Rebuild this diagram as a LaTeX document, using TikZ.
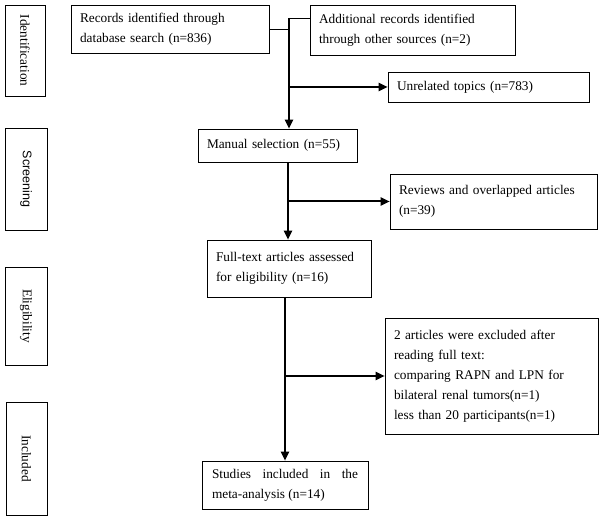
\documentclass[tikz,border=0pt]{standalone}
\usepackage{fontspec}
\setmainfont{Liberation Serif}
\newfontfamily\stagesans{Liberation Sans}
\usepackage{tikz}
\usetikzlibrary{positioning}
\usetikzlibrary{calc}
\usetikzlibrary{arrows.meta}

\begin{document}
\begin{tikzpicture}
			[
				x = 1pt, y = -1pt,
				mybox/.style = {draw, rectangle, line width = 0.6pt, align = left, inner xsep = 9pt, inner ysep = 2pt, font = \fontsize{13.3}{20}\selectfont},
				mystage/.style = {draw, rectangle, line width = 0.6pt, rotate = -90, inner sep = 0pt, minimum height = 42pt, font = \fontsize{13.3}{20}\selectfont},
				myline/.style = {line width = 0.6pt},
				myarrow/.style = {line width = 2pt, -{Triangle[length = 9pt, width = 8pt]}}
			]
			\useasboundingbox (0,0) rectangle (600,518);
			%
			\node (identification) [mystage, minimum width = 91pt, minimum height = 40pt] at (25,50.5) {Identification};
			\node (screening) [mystage, minimum width = 102pt, font = \stagesans\fontsize{12.5}{20}\selectfont] at (26,179) {Screening};
			\node (eligibility) [mystage, minimum width = 98pt] at (26,316) {Eligibility};
			\node (included) [mystage, minimum width = 113pt, minimum height = 41pt] at (26.5,458.5) {Included};
			%
			\node (records) [mybox, text width = 180pt, minimum height = 48pt] at (170,29) {Records identified through\\database search (n=836)};
			\node (additional) [mybox, text width = 187pt, minimum height = 50pt] at (412.5,30) {Additional records identified\\through other sources (n=2)};
			\node (unrelated) [mybox, text width = 183pt, minimum height = 30pt] at (488.5,87) {Unrelated topics (n=783)};
			\node (manual) [mybox, text width = 141pt, minimum height = 33pt] at (277.5,145.5) {Manual selection (n=55)};
			\node (reviews) [mybox, text width = 189pt, minimum height = 55pt] at (493.5,201.5) {Reviews and overlapped articles\\(n=39)};
			\node (fulltext) [mybox, text width = 146pt, minimum height = 57pt] at (289,268.5) {Full-text articles assessed\\for eligibility (n=16)};
			\node (excluded) [mybox, text width = 195pt, minimum height = 116pt] at (491.5,376) {2 articles were excluded after\\reading full text:\\comparing RAPN and LPN for\\bilateral renal tumors(n=1)\\less than 20 participants(n=1)};
			\node (studies) [mybox, align = justify, inner xsep = 10pt, text width = 146pt, minimum height = 48pt] at (285,485) {Studies included in the meta-analysis (n=14)};
			%
			\coordinate (trunk) at (289,18);
			\coordinate (trunkb) at (288,0);
			\coordinate (trunkc) at (285,0);
			%
			\draw [myline] (records.east) -- (records.east -| trunk);
			\draw [myline] (trunk) -- (trunk -| additional.west);
			\draw [myarrow] (trunk) -- (trunk |- manual.north);
			\draw [myarrow] (trunk |- unrelated.west) -- (unrelated.west);
			%
			\draw [myarrow] (trunkb |- manual.south) -- (trunkb |- fulltext.north);
			\draw [myarrow] (trunkb |- reviews.west) -- (reviews.west);
			%
			\draw [myarrow] (trunkc |- fulltext.south) -- (trunkc |- studies.north);
			\draw [myarrow] (trunkc |- excluded.west) -- (excluded.west);
			%
		\end{tikzpicture}
\end{document}
